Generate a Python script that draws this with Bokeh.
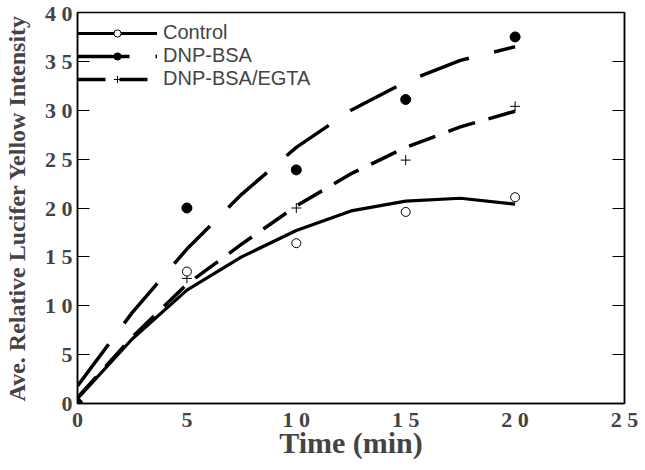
from bokeh.plotting import figure
from bokeh.models import (LinearAxis, FixedTicker, Range1d, Legend, LegendItem)
from bokeh.embed import file_html
from bokeh.resources import INLINE

# ---- data ----
times = [0, 5, 10, 15, 20]
control = [0.0, 1.35, 1.64, 1.96, 2.11]
dnp_bsa = [0.0, 2.00, 2.39, 3.11, 3.75]
dnp_egta = [0.0, 1.28, 2.00, 2.49, 3.04]

fit_t = [0, 2.5, 5, 7.5, 10, 12.5, 15, 17.5, 20]
control_fit = [0.05, 0.66, 1.16, 1.50, 1.77, 1.97, 2.07, 2.10, 2.04]
dnp_bsa_fit = [0.18, 0.93, 1.58, 2.14, 2.62, 3.00, 3.29, 3.51, 3.65]
dnp_egta_fit = [0.06, 0.68, 1.22, 1.63, 2.02, 2.35, 2.62, 2.83, 2.99]

x_ticks = [0, 5, 10, 15, 20, 25]
x_tick_labels = ["0", "5", "1 0", "1 5", "2 0", "2 5"]
y_ticks = [0, 0.5, 1, 1.5, 2, 2.5, 3, 3.5, 4]
y_tick_labels = ["0", "5", "1 0", "1 5", "2 0", "2 5", "3 0", "3 5", "4 0"]

serif = "Liberation Serif"
sans = "Liberation Sans"

p = figure(frame_width=547, frame_height=391, output_backend="svg",
           toolbar_location=None, x_range=Range1d(0, 25), y_range=Range1d(0, 4),
           min_border_left=76, min_border_top=12, min_border_right=14,
           min_border_bottom=10)
p.xgrid.visible = False
p.ygrid.visible = False
p.outline_line_color = "black"
p.outline_line_width = 1.5
p.background_fill_color = "white"
p.border_fill_color = "white"

# axes
xa = p.xaxis[0]
xa.ticker = FixedTicker(ticks=x_ticks)
xa.major_label_overrides = {t: l for t, l in zip(x_ticks, x_tick_labels)}
xa.major_tick_in = 0
xa.major_tick_out = 0
xa.minor_tick_in = 0
xa.minor_tick_out = 0
xa.axis_line_width = 1.5
xa.major_label_text_font = serif
xa.major_label_text_font_style = "bold"
xa.major_label_text_font_size = "22px"
xa.major_label_standoff = 3
xa.axis_label = "Time (min)"
xa.axis_label_text_font = serif
xa.axis_label_text_font_style = "bold"
xa.axis_label_text_font_size = "30px"
xa.axis_label_standoff = -9

ya = p.yaxis[0]
ya.ticker = FixedTicker(ticks=y_ticks)
ya.major_label_overrides = {t: l for t, l in zip(y_ticks, y_tick_labels)}
ya.major_tick_in = 12
ya.major_tick_out = 0
ya.minor_tick_in = 0
ya.minor_tick_out = 0
ya.axis_line_width = 1.5
ya.major_label_text_font = serif
ya.major_label_text_font_style = "bold"
ya.major_label_text_font_size = "22px"
ya.major_label_standoff = 5
ya.axis_label = "Ave. Relative Lucifer Yellow Intensity"
ya.axis_label_text_font = serif
ya.axis_label_text_font_style = "bold"
ya.axis_label_text_font_size = "24px"
ya.axis_label_standoff = 12

ra = LinearAxis(ticker=FixedTicker(ticks=y_ticks))
ra.major_tick_in = 12
ra.major_tick_out = 0
ra.minor_tick_in = 0
ra.minor_tick_out = 0
ra.major_label_text_alpha = 0
ra.major_label_text_font_size = "1px"
ra.axis_line_width = 1.5
p.add_layout(ra, "right")

# curves
l_ctrl = p.line(fit_t, control_fit, line_color="black", line_width=3.2)
l_dnp = p.line(fit_t, dnp_bsa_fit, line_color="black", line_width=3.5,
               line_dash="52 26")
l_egta = p.line(fit_t, dnp_egta_fit, line_color="black", line_width=3.5,
                line_dash="28 14")

# points
s_egta = p.scatter(times, dnp_egta, marker="cross", size=10, line_color="black",
                   line_width=1)
s_ctrl = p.scatter(times, control, marker="circle", size=9, line_color="black",
                   fill_color="white", line_width=1)
s_dnp = p.scatter(times, dnp_bsa, marker="circle", size=10, line_color="black",
                  fill_color="black")

legend = Legend(items=[
    LegendItem(label="Control", renderers=[l_ctrl, s_ctrl]),
    LegendItem(label="DNP-BSA", renderers=[l_dnp, s_dnp]),
    LegendItem(label="DNP-BSA/EGTA", renderers=[l_egta, s_egta]),
], location=(0, 313))
legend.padding = 0
legend.margin = 0
legend.spacing = 0
legend.glyph_width = 80
legend.glyph_height = 18
legend.label_height = 18
legend.label_standoff = 6
legend.label_text_font = sans
legend.label_text_font_size = "20px"
legend.label_text_baseline = "middle"
legend.background_fill_alpha = 0
legend.border_line_alpha = 0
p.add_layout(legend, "center")

open("out.html", "w").write(file_html(p, INLINE))
